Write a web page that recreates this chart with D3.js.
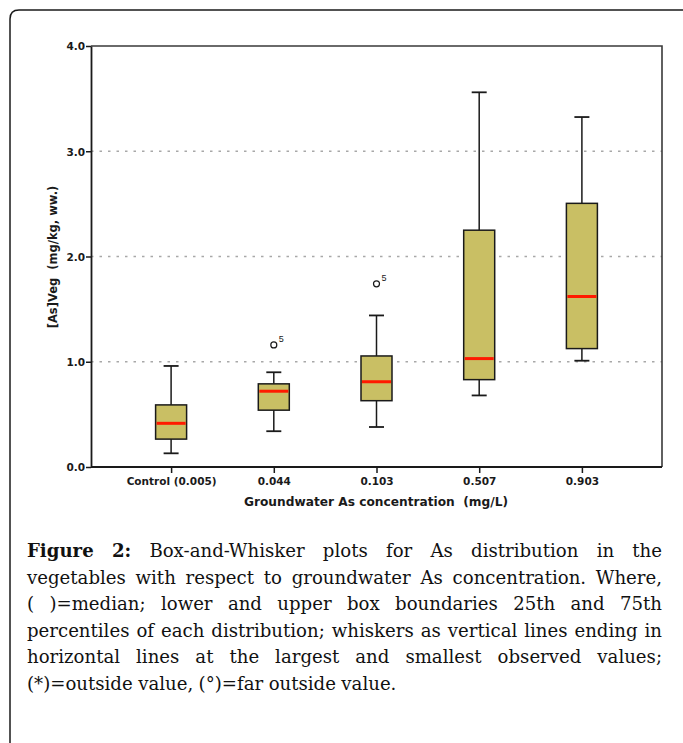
<!DOCTYPE html>
<html>
<head>
<meta charset="utf-8">
<script src="https://cdn.jsdelivr.net/npm/d3@7/dist/d3.min.js"></script>
<style>
  html, body { margin: 0; padding: 0; background: #fff; }
  svg { display: block; }
</style>
</head>
<body>
<svg id="chart" width="683" height="743"></svg>
<script>
// ---- data ----
const categories = ["Control (0.005)", "0.044", "0.103", "0.507", "0.903"];
const whiskerLow  = [0.13, 0.34, 0.38, 0.68, 1.01];
const q1          = [0.265, 0.54, 0.63, 0.83, 1.125];
const median      = [0.415, 0.72, 0.81, 1.03, 1.62];
const q3          = [0.59, 0.79, 1.055, 2.25, 2.505];
const whiskerHigh = [0.96, 0.90, 1.44, 3.56, 3.325];
const outlierCats   = ["0.044", "0.103"];
const outlierValues = [1.16, 1.74];
const outlierLabels = ["5", "5"];
const yTicks = [0, 1, 2, 3, 4];
const gridValues = [1, 2, 3];
const yTitle = "[As]Veg  (mg/kg, ww.)";
const xTitle = "Groundwater As concentration  (mg/L)";
const captionBold = "Figure 2:";
const captionLines = [
  "Box-and-Whisker plots for As distribution in the",
  "vegetables with respect to groundwater As concentration. Where,",
  "( )=median; lower and upper box boundaries 25th and 75th",
  "percentiles of each distribution; whiskers as vertical lines ending in",
  "horizontal lines at the largest and smallest observed values;",
  "(*)=outside value, (°)=far outside value."
];

// ---- layout ----
const svg = d3.select("#chart");
const plot = { left: 91, right: 662, top: 46, bottom: 467 };
const sans = "'DejaVu Sans', Verdana, sans-serif";

const x = d3.scalePoint().domain(categories).range([plot.left, plot.right]).padding(0.78);
const y = d3.scaleLinear().domain([0, 4]).range([plot.bottom, plot.top]);

// outer frame
svg.append("path")
  .attr("d", `M10,760 L10,19 Q10,10 19,10 L700,10`)
  .attr("fill", "none").attr("stroke", "#1a1a1a").attr("stroke-width", 1.5);

// gridlines
svg.append("g").selectAll("line").data(gridValues).join("line")
  .attr("x1", plot.left).attr("x2", plot.right)
  .attr("y1", d => y(d)).attr("y2", d => y(d))
  .attr("stroke", "#a8a8a8").attr("stroke-width", 1.3)
  .attr("stroke-dasharray", "2.5,6");

// plot frame (top/right)
svg.append("path")
  .attr("d", `M${plot.left},${plot.top} L${plot.right},${plot.top} L${plot.right},${plot.bottom}`)
  .attr("fill", "none").attr("stroke", "#3a3a3a").attr("stroke-width", 1.6);

// y axis
const yAxis = svg.append("g").attr("transform", `translate(${plot.left},0)`)
  .call(d3.axisLeft(y).tickValues(yTicks).tickFormat(d3.format(".1f")).tickSize(5).tickSizeOuter(0));
yAxis.select(".domain").attr("stroke", "#1a1a1a").attr("stroke-width", 1.8);
yAxis.selectAll(".tick line").attr("stroke", "#1a1a1a").attr("stroke-width", 1.5);
yAxis.selectAll(".tick text")
  .attr("x", -6).attr("dy", "0.36em")
  .style("font-family", sans)
  .style("font-weight", "bold").style("font-size", "10.5px").attr("fill", "#1a1a1a");

// x axis
const xAxis = svg.append("g").attr("transform", `translate(0,${plot.bottom})`)
  .call(d3.axisBottom(x).tickSize(6).tickSizeOuter(0));
xAxis.select(".domain").attr("stroke", "#1a1a1a").attr("stroke-width", 1.8)
  .attr("d", `M${plot.left},0H${plot.right}`);
xAxis.selectAll(".tick line").attr("stroke", "#1a1a1a").attr("stroke-width", 1.5);
xAxis.selectAll(".tick text")
  .attr("y", 11).attr("dy", "0.71em")
  .style("font-family", sans)
  .style("font-weight", "bold").style("font-size", "10.5px").attr("fill", "#1a1a1a");

// axis titles
svg.append("text")
  .attr("transform", `translate(57,257) rotate(-90)`)
  .attr("text-anchor", "middle")
  .style("white-space", "pre")
  .style("font-family", sans)
  .style("font-weight", "bold").style("font-size", "11.5px").attr("fill", "#1a1a1a")
  .text(yTitle);

svg.append("text")
  .attr("x", 376).attr("y", 506)
  .attr("text-anchor", "middle")
  .style("white-space", "pre")
  .style("font-family", sans)
  .style("font-weight", "bold").style("font-size", "12.2px").attr("fill", "#1a1a1a")
  .text(xTitle);

// boxes
const boxW = 31, capW = 15;
const rows = categories.map((c, i) => ({
  c, lo: whiskerLow[i], q1: q1[i], med: median[i], q3: q3[i], hi: whiskerHigh[i]
}));
const g = svg.append("g");
const bx = g.selectAll("g.box").data(rows).join("g").attr("class", "box");
bx.append("line")
  .attr("x1", d => x(d.c)).attr("x2", d => x(d.c))
  .attr("y1", d => y(d.hi)).attr("y2", d => y(d.q3))
  .attr("stroke", "#1a1a1a").attr("stroke-width", 1.5);
bx.append("line")
  .attr("x1", d => x(d.c)).attr("x2", d => x(d.c))
  .attr("y1", d => y(d.q1)).attr("y2", d => y(d.lo))
  .attr("stroke", "#1a1a1a").attr("stroke-width", 1.5);
bx.append("line")
  .attr("x1", d => x(d.c) - capW / 2).attr("x2", d => x(d.c) + capW / 2)
  .attr("y1", d => y(d.hi)).attr("y2", d => y(d.hi))
  .attr("stroke", "#1a1a1a").attr("stroke-width", 1.8);
bx.append("line")
  .attr("x1", d => x(d.c) - capW / 2).attr("x2", d => x(d.c) + capW / 2)
  .attr("y1", d => y(d.lo)).attr("y2", d => y(d.lo))
  .attr("stroke", "#1a1a1a").attr("stroke-width", 1.8);
bx.append("rect")
  .attr("x", d => x(d.c) - boxW / 2).attr("width", boxW)
  .attr("y", d => y(d.q3)).attr("height", d => y(d.q1) - y(d.q3))
  .attr("fill", "#c9bf64").attr("stroke", "#1a1a1a").attr("stroke-width", 1.5);
bx.append("line")
  .attr("x1", d => x(d.c) - boxW / 2 + 1).attr("x2", d => x(d.c) + boxW / 2 - 1)
  .attr("y1", d => y(d.med)).attr("y2", d => y(d.med))
  .attr("stroke", "#ff1a00").attr("stroke-width", 3);

// outliers
const outs = outlierCats.map((c, i) => ({ c, v: outlierValues[i], l: outlierLabels[i] }));
g.selectAll("circle.out").data(outs).join("circle").attr("class", "out")
  .attr("cx", d => x(d.c)).attr("cy", d => y(d.v)).attr("r", 3)
  .attr("fill", "none").attr("stroke", "#1a1a1a").attr("stroke-width", 1.2);
g.selectAll("text.outl").data(outs).join("text").attr("class", "outl")
  .attr("x", d => x(d.c) + 5).attr("y", d => y(d.v) - 3)
  .style("font-family", "'Liberation Sans', Arial, sans-serif")
  .style("font-size", "9px").attr("fill", "#1a1a1a")
  .text(d => d.l);

// caption (justified)
const capLeft = 27, capRight = 662, capTop = 557, lineH = 26.6;
const capFont = "'DejaVu Serif', 'Liberation Serif', serif";
const lastTargetW = 371;
// measure last line to fit font size
const probe = svg.append("text").style("font-family", capFont).style("font-size", "19px")
  .text(captionLines[captionLines.length - 1]);
const capSize = Math.min(20, 19 * lastTargetW / probe.node().getComputedTextLength());
probe.remove();

const capG = svg.append("g")
  .style("font-family", capFont).style("font-size", capSize + "px").attr("fill", "#111");

captionLines.forEach((line, li) => {
  let words = line.split(" ").map(w => ({ text: w, bold: false }));
  if (li === 0) {
    const bw = captionBold.split(" ").map(w => ({ text: w, bold: true }));
    words = bw.concat(words);
  }
  const yy = capTop + li * lineH;
  const nodes = words.map(w => {
    const t = capG.append("text").attr("y", yy).text(w.text);
    if (w.bold) t.style("font-weight", "bold");
    return { t, w: t.node().getComputedTextLength() };
  });
  const total = d3.sum(nodes, n => n.w);
  const last = li === captionLines.length - 1;
  const space = last ? capSize * 0.3 : (capRight - capLeft - total) / (nodes.length - 1);
  let cx = capLeft;
  nodes.forEach(n => { n.t.attr("x", cx); cx += n.w + space; });
});
</script>
</body>
</html>
